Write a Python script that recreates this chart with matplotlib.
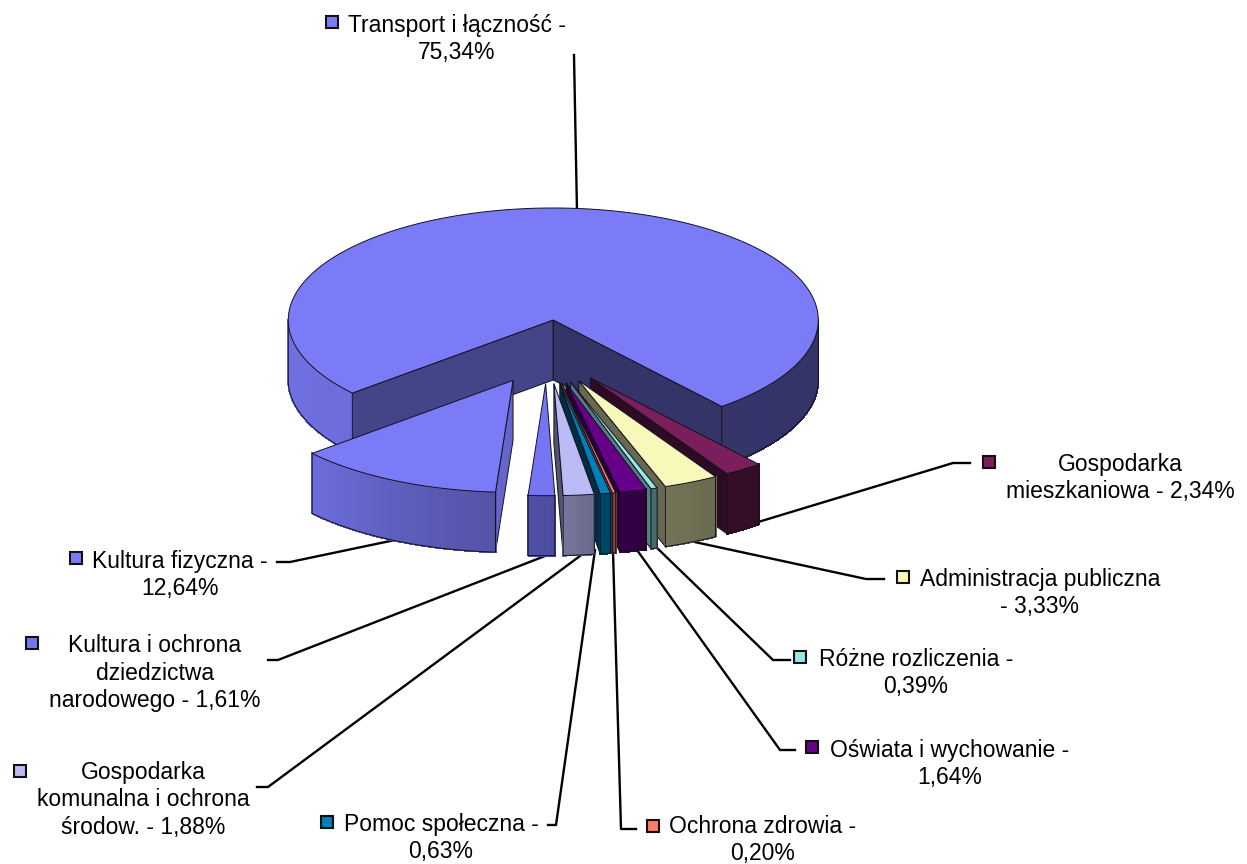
import numpy as np
import matplotlib
matplotlib.use("Agg")
import matplotlib.pyplot as plt
from matplotlib.collections import PolyCollection

plt.rcParams['font.family'] = ['Liberation Sans', 'DejaVu Sans']

# data, clockwise starting with the big slice
values = [75.34, 2.34, 3.33, 0.39, 1.64, 0.20, 0.63, 1.88, 1.61, 12.64]
labels = ["Transport i łączność -\n75,34%",
          "Gospodarka\nmieszkaniowa - 2,34%",
          "Administracja publiczna\n- 3,33%",
          "Różne rozliczenia -\n0,39%",
          "Oświata i wychowanie -\n1,64%",
          "Ochrona zdrowia -\n0,20%",
          "Pomoc społeczna -\n0,63%",
          "Gospodarka\nkomunalna i ochrona\nśrodow. - 1,88%",
          "Kultura i ochrona\ndziedzictwa\nnarodowego - 1,61%",
          "Kultura fizyczna -\n12,64%"]
colors = ["#7B7BF8", "#7A1E5C", "#F8F8BB", "#99E6E6", "#660088",
          "#FF7B6B", "#0080B8", "#BBBBF5", "#7676F4", "#7B7BF8"]

# pie geometry in pixels
START = 229.3
CX, CY = 546.8, 351.8
RX, RY = 265, 112
DEPTH = 60
EXPLODE = 0.285

# how dark the walls get, depending on the angle
wall_angle = [90, 150, 165, 180, 205, 228, 270]
wall_shade = [0.42, 0.43, 0.48, 0.66, 0.76, 0.88, 0.92]
# shade for the flat cut faces (start edge, end edge)
side_start = [0.55, 0, 0, 0, 0, 0, 0, 0, 0, 0.82]
side_end = [0.42, 0.38, 0.42, 0.55, 0.40, 0.5, 0.35, 0.45, 0, 0]

# label layout: text centre, key centre, leader line
text_xy = [(457, 39), (1120, 478), (1040, 593), (916, 673), (950, 764),
           (763, 840), (441, 838), (143, 800), (155, 673), (180, 575)]
key_xy = [(332, 22), (989, 462), (903, 577), (800, 657), (812, 747),
          (653, 826), (327, 822), (20, 771), (32, 643), (76, 558)]
leaders = [[(574, 55), (577, 212)],
           [(970, 463), (953, 463), (745, 526)],
           [(884, 579), (866, 579), (690, 541)],
           [(790, 660), (773, 660), (655, 546)],
           [(795, 750), (780, 750), (637, 550)],
           [(636, 829), (621, 829), (613, 551)],
           [(548, 825), (556, 825), (595, 550)],
           [(257, 787), (268, 787), (580, 556)],
           [(268, 660), (278, 660), (545, 556)],
           [(277, 562), (290, 562), (395, 540)]]


def shaded(col, f):
    r, g, b = matplotlib.colors.to_rgb(col)
    return (r * f, g * f, b * f)


def rim(cx, cy, th):
    th = np.radians(th)
    return cx + RX * np.sin(th), cy - RY * np.cos(th)


fig = plt.figure(figsize=(12.47, 8.64), dpi=100)
ax = fig.add_axes([0, 0, 1, 1])
ax.set_xlim(0, 1247)
ax.set_ylim(864, 0)
ax.axis('off')

for line in leaders:
    xs, ys = zip(*line)
    ax.plot(xs, ys, color='black', lw=1.7, zorder=1, solid_joinstyle='round')

spans = np.array(values) * 3.6
starts = START + np.concatenate([[0], np.cumsum(spans)[:-1]])
mids = starts + spans / 2

centers = []
for m in mids:
    dx, dy = rim(0, 0, m)
    centers.append((CX + EXPLODE * dx, CY + EXPLODE * dy))

# back to front
order = np.argsort([c[1] for c in centers])
z = 2
for i in order:
    cx, cy = centers[i]
    a, b = starts[i], starts[i] + spans[i]
    col = colors[i]

    # flat cut faces
    for th, f in ((a, side_start[i]), (b, side_end[i])):
        if f > 0:
            x, y = rim(cx, cy, th)
            ax.fill([cx, x, x, cx], [cy, y, y + DEPTH, cy + DEPTH],
                    facecolor=shaded(col, f), edgecolor='#111122', lw=0.7, zorder=z)
            z += 1

    # outer wall, only the part looking at us
    for lo, hi in ((90, 270), (450, 630)):
        t0, t1 = max(a, lo), min(b, hi)
        if t1 <= t0:
            continue
        n = max(2, int((t1 - t0) * 2))
        th = np.linspace(t0, t1, n + 1)
        x, y = rim(cx, cy, th)
        quads, cols = [], []
        for k in range(n):
            quads.append([(x[k], y[k]), (x[k + 1], y[k + 1]),
                          (x[k + 1], y[k + 1] + DEPTH), (x[k], y[k] + DEPTH)])
            f = np.interp(((th[k] + th[k + 1]) / 2) % 360, wall_angle, wall_shade)
            cols.append(shaded(col, f))
        ax.add_collection(PolyCollection(quads, facecolors=cols, edgecolors=cols,
                                         linewidths=0.8, antialiaseds=False, zorder=z))
        z += 1
        ax.plot(np.r_[x[0], x[0], x, x[-1]],
                np.r_[y[0], y[0] + DEPTH, y + DEPTH, y[-1]],
                color='#111122', lw=0.7, zorder=z)
        z += 1

    # top face
    th = np.linspace(a, b, max(3, int(spans[i] * 2)))
    x, y = rim(cx, cy, th)
    ax.fill(np.r_[cx, x], np.r_[cy, y], facecolor=col, edgecolor='#111122',
            lw=0.7, zorder=z)
    z += 1

for i in range(len(values)):
    ax.text(text_xy[i][0], text_xy[i][1], labels[i], ha='center', va='center',
            fontsize=16.5, linespacing=1.24, color='black', zorder=z)
    ax.plot(*key_xy[i], marker='s', ms=8.5, mfc=colors[i], mec='#111111', mew=1.5,
            zorder=z, ls='none')

fig.savefig("out.png", dpi=100)
